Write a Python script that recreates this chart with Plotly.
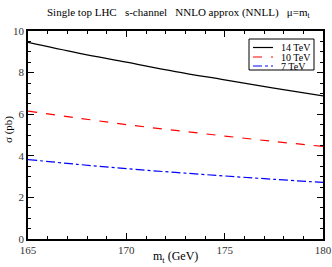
import plotly.graph_objects as go

mt = [165, 167.5, 170, 172.5, 175, 177.5, 180]
sigma_14 = [9.45, 8.95, 8.50, 8.05, 7.65, 7.25, 6.88]
sigma_10 = [6.15, 5.82, 5.50, 5.22, 4.95, 4.69, 4.45]
sigma_7 = [3.82, 3.59, 3.38, 3.20, 3.03, 2.87, 2.72]

series_names = ["14 TeV", "10 TeV", "7 TeV"]
series_values = [sigma_14, sigma_10, sigma_7]
series_colors = ["black", "red", "blue"]
series_dash = ["solid", "dash", "dashdot"]

FONT = "Liberation Serif"

fig = go.Figure()
for name, vals, col, dash in zip(series_names, series_values, series_colors, series_dash):
    fig.add_trace(go.Scatter(x=mt, y=vals, mode="lines", name=name, showlegend=False,
                             line=dict(color=col, width=1.2, dash=dash, shape="spline")))

# invisible trace for mirrored axes
fig.add_trace(go.Scatter(x=[mt[0]], y=[sigma_7[0]], xaxis="x2", yaxis="y2",
                         mode="markers", marker=dict(opacity=0), showlegend=False,
                         hoverinfo="skip"))

base = dict(showgrid=False, zeroline=False, showline=True, linecolor="black",
            linewidth=1.5, ticks="inside", ticklen=6, tickcolor="black", tickwidth=1,
            tickfont=dict(family=FONT, size=11, color="#333"), automargin=False)

fig.update_layout(
    xaxis=dict(range=[165, 180], tick0=165, dtick=5,
               minor=dict(dtick=1, ticks="inside", ticklen=3, tickcolor="black", showgrid=False),
               **base),
    yaxis=dict(range=[0, 10], tick0=0, dtick=2,
               minor=dict(dtick=0.5, ticks="inside", ticklen=3, tickcolor="black", showgrid=False),
               **base),
    xaxis2=dict(range=[165, 180], tick0=165, dtick=5, overlaying="x", side="top",
                showticklabels=False,
                minor=dict(dtick=1, ticks="inside", ticklen=3, tickcolor="black", showgrid=False),
                **base),
    yaxis2=dict(range=[0, 10], tick0=0, dtick=2, overlaying="y", side="right",
                showticklabels=False,
                minor=dict(dtick=0.5, ticks="inside", ticklen=3, tickcolor="black", showgrid=False),
                **base),
)

# plot area in pixels: x 28..323, y 31..239
def px(xp):
    return (xp - 28) / 295.0

def py(yp):
    return (239 - yp) / 208.0

shapes = [dict(type="rect", xref="paper", yref="paper",
               x0=px(249), x1=px(314), y0=py(70), y1=py(39),
               line=dict(color="black", width=1), fillcolor="white", layer="above")]
annotations = []
row_y = [47.5, 57, 66]
for name, col, dash, ry in zip(series_names, series_colors, series_dash, row_y):
    shapes.append(dict(type="line", xref="paper", yref="paper",
                       x0=px(253), x1=px(273), y0=py(ry), y1=py(ry),
                       line=dict(color=col, width=1.2, dash=dash), layer="above"))
    annotations.append(dict(text=name, xref="paper", yref="paper", x=px(279), y=py(ry),
                            xanchor="left", yanchor="middle", showarrow=False,
                            font=dict(family=FONT, size=10, color="black")))

annotations += [
    dict(text="Single top LHC   s-channel   NNLO approx (NNLL)   μ=m<sub>t</sub>",
         xref="paper", yref="paper", x=px(178), y=py(13),
         xanchor="center", yanchor="middle", showarrow=False,
         font=dict(family=FONT, size=11, color="black")),
    dict(text="m<sub>t</sub> (GeV)", xref="paper", yref="paper", x=px(175), y=py(257),
         xanchor="center", yanchor="middle", showarrow=False,
         font=dict(family=FONT, size=12, color="black")),
    dict(text="σ (pb)", xref="paper", yref="paper", x=px(8), y=py(130),
         xanchor="center", yanchor="middle", showarrow=False, textangle=-90,
         font=dict(family=FONT, size=11, color="black")),
]

fig.update_layout(
    width=332, height=267,
    margin=dict(l=28, r=9, t=31, b=28),
    paper_bgcolor="white", plot_bgcolor="white",
    font=dict(family=FONT, size=11, color="black"),
    showlegend=False,
    shapes=shapes,
    annotations=annotations,
)

fig.write_html("out.html", config={"displayModeBar": False},
               post_script="document.body.style.margin='0';")
